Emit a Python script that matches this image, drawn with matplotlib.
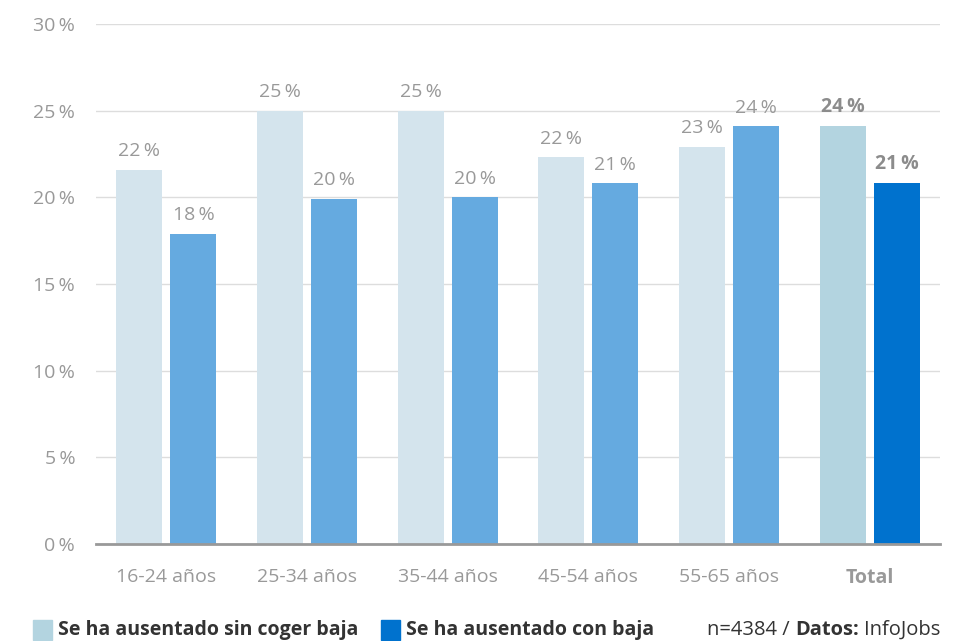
import matplotlib.pyplot as plt
from matplotlib.patches import Rectangle

plt.rcParams['font.family'] = ['Open Sans', 'DejaVu Sans']

groups = ['16-24 años', '25-34 años', '35-44 años', '45-54 años', '55-65 años', 'Total']
sin_baja = [21.6, 25.0, 25.0, 22.3, 22.9, 24.1]
con_baja = [17.9, 19.9, 20.0, 20.8, 24.1, 20.8]
sin_labels = ['22', '25', '25', '22', '23', '24']
con_labels = ['18', '20', '20', '21', '24', '21']
yticks = [0, 5, 10, 15, 20, 25, 30]

light = '#d4e4ed'
mid = '#65aae0'
light_total = '#b3d4e0'
dark_total = '#0072ce'
grey = '#999999'

fig = plt.figure(figsize=(9.76, 6.41), dpi=100)
ax = fig.add_axes([0.0984, 0.1513, 0.8648, 0.8113])

w = 0.327
off = 0.192
n = len(groups)
for i in range(n):
    last = i == n - 1
    c1 = light_total if last else light
    c2 = dark_total if last else mid
    ax.bar(i - off, sin_baja[i], w, color=c1, zorder=3)
    ax.bar(i + off, con_baja[i], w, color=c2, zorder=3)
    fw = 'bold' if last else 'normal'
    col = '#8c8c8c' if last else grey
    ax.annotate(sin_labels[i] + '\u2009%', (i - off, sin_baja[i]), xytext=(0, 7),
                textcoords='offset points', ha='center', va='bottom',
                fontsize=14, color=col, fontweight=fw)
    ax.annotate(con_labels[i] + '\u2009%', (i + off, con_baja[i]), xytext=(0, 7),
                textcoords='offset points', ha='center', va='bottom',
                fontsize=14, color=col, fontweight=fw)

ax.set_xlim(-0.5, n - 0.5)
ax.set_ylim(0, 30)
ax.set_yticks(yticks)
ax.set_yticklabels([f'{t}\u2009%' for t in yticks])
ax.set_xticks(range(n))
ax.set_xticklabels(groups)
ax.get_xticklabels()[-1].set_fontweight('bold')
ax.tick_params(axis='both', length=0, labelsize=14, labelcolor=grey)
ax.tick_params(axis='x', pad=17)
ax.tick_params(axis='y', pad=15)
ax.grid(axis='y', color='#dddddd', linewidth=1, zorder=0)
for s in ['top', 'right', 'left']:
    ax.spines[s].set_visible(False)
ax.spines['bottom'].set_color('#999999')
ax.spines['bottom'].set_linewidth(2)
ax.spines['bottom'].set_zorder(4)

# legend / footer
ty = 1 - 630 / 641
fs = 14.5
fig.patches.append(Rectangle((33 / 976, 1 - 640 / 641), 19 / 976, 20 / 641,
                             transform=fig.transFigure, color=light_total))
fig.text(58 / 976, ty, 'Se ha ausentado sin coger baja', fontsize=14,
         fontweight='bold', color='#333333', va='center')
fig.patches.append(Rectangle((381 / 976, 1 - 640 / 641), 19 / 976, 20 / 641,
                             transform=fig.transFigure, color=dark_total))
fig.text(406 / 976, ty, 'Se ha ausentado con baja', fontsize=14,
         fontweight='bold', color='#333333', va='center')

r = fig.canvas.get_renderer()
t1 = fig.text(940 / 976, ty, 'InfoJobs', fontsize=fs, color='#333333',
              va='center', ha='right')
x = t1.get_window_extent(r).x0 - 5
t2 = fig.text(x / 976, ty, 'Datos:', fontsize=fs, fontweight='bold', color='#333333',
              va='center', ha='right')
x = t2.get_window_extent(r).x0 - 5
fig.text(x / 976, ty, 'n=4384 /', fontsize=fs, color='#333333', va='center', ha='right')

fig.savefig('out.png', dpi=100)
